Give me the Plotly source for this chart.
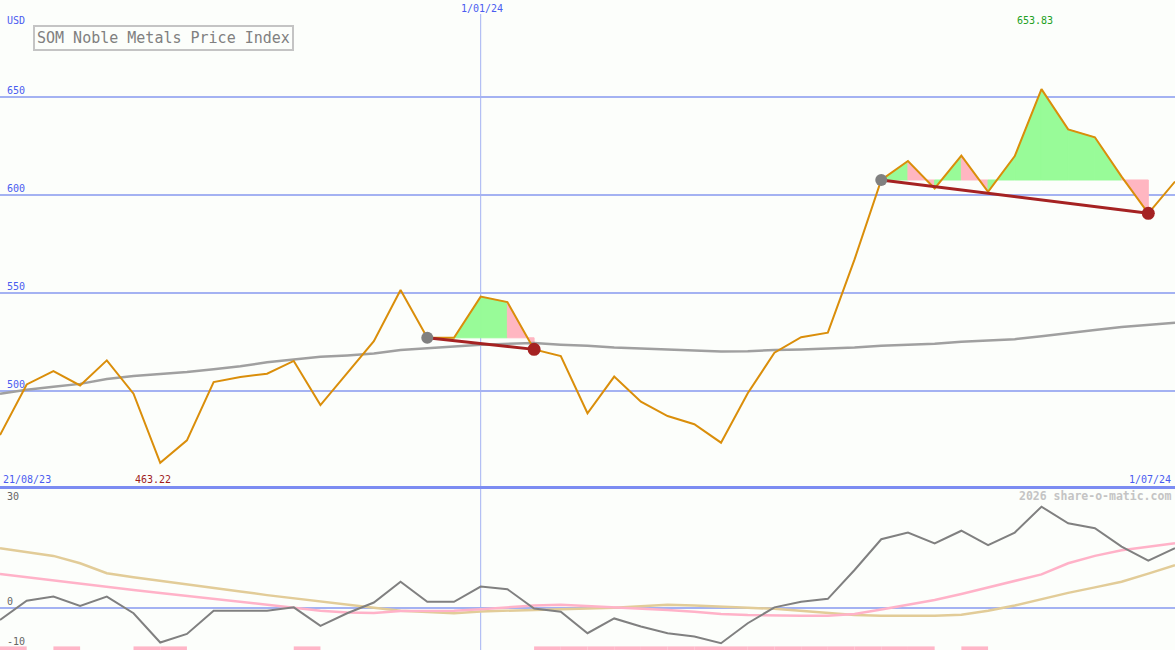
import pandas as pd
import plotly.graph_objects as go

# ---------------- data ----------------
dates = pd.date_range("2023-08-28", periods=45, freq="7D")

price = [477.4, 503.2, 510.0, 502.7, 515.5, 498.5, 463.22, 474.7, 504.4, 507.0,
         508.7, 515.2, 492.7, 509.2, 525.3, 551.4, 527.0, 527.0, 548.0, 545.2,
         521.1, 517.7, 488.5, 507.2, 494.4, 487.1, 482.9, 473.5, 498.7, 519.4,
         527.3, 529.6, 567.0, 607.5, 617.2, 603.2, 619.9, 601.5, 619.7, 653.83,
         633.3, 629.3, 609.2, 590.5, 606.7]

moving_avg = [498.5, 500.5, 502.0, 503.5, 506.0, 507.5, 508.5, 509.5, 511.0, 512.5,
              514.5, 516.0, 517.3, 518.0, 519.0, 520.8, 521.5, 522.5, 523.5, 524.0,
              524.3, 523.5, 523.0, 522.0, 521.5, 521.0, 520.3, 520.0, 520.2, 520.8,
              521.0, 521.5, 522.0, 523.0, 523.5, 524.0, 525.0, 525.5, 526.3, 527.8,
              529.5, 531.0, 532.5, 533.5, 534.7]

momentum = [-3.3, 1.9, 3.0, 0.5, 3.0, -1.5, -9.4, -7.1, -0.8, -0.8,
             -0.8, 0.1, -4.9, -1.5, 1.4, 7.0, 1.6, 1.6, 5.7, 5.0,
             -0.2, -1.1, -6.9, -2.9, -5.1, -6.9, -7.8, -9.6, -4.2, 0.1,
             1.6, 2.4, 10.2, 18.5, 20.3, 17.4, 20.8, 16.9, 20.3, 27.3,
             22.8, 21.5, 16.5, 12.7, 16.1]

mom_fast = [9.1, 8.2, 7.5, 6.6, 5.7, 4.8, 4.0, 3.2, 2.4, 1.6,
            0.7, 0.0, -0.8, -1.3, -1.4, -0.9, -0.8, -0.8, -0.4, 0.1,
            0.6, 0.8, 0.5, 0.2, -0.2, -0.6, -1.1, -1.7, -2.0, -2.2,
            -2.2, -2.2, -1.7, -0.5, 0.8, 2.1, 3.7, 5.5, 7.3, 9.0,
            12.0, 14.0, 15.5, 16.5, 17.4]

mom_slow = [16.1, 15.1, 14.0, 12.0, 9.3, 8.2, 7.3, 6.4, 5.4, 4.4,
            3.4, 2.5, 1.6, 0.8, 0.0, -0.8, -1.1, -1.5, -1.0, -0.8,
            -0.6, -0.4, -0.3, 0.0, 0.4, 0.8, 0.6, 0.2, 0.0, -0.3,
            -0.8, -1.4, -2.0, -2.2, -2.2, -2.2, -1.9, -0.8, 0.6, 2.4,
            4.0, 5.5, 7.0, 9.2, 11.5]

# intervals (start index) flagged by the pink bar at the bottom of the lower panel
flag_starts = [0, 2, 5, 6, 11] + list(range(20, 35)) + [36]

entries = [16, 33]
exits = [20, 43]

price_ticks = [500, 550, 600, 650]
osc_ticks = [30, 0, -10]

# ---------------- styling ----------------
W, H = 1175, 650
BG = "#FCFEFB"
GRID = "#A4B2F2"
BLUE_TXT = "#4A5CF0"
FONT = "DejaVu Sans Mono"
MAIN_DOM = [1 - 487 / H, 1.0]
LOW_DOM = [0.0, 1 - 489 / H]
MAIN_RANGE = [450.9, 699.3]
LOW_RANGE = [-11.43, 32.08]

fig = go.Figure()

# trade fills
for en, ex in zip(entries, exits):
    base = price[en]
    for i in range(en, ex):
        col = "#98FB98" if price[i + 1] >= base else "#FFB6C1"
        fig.add_trace(go.Scatter(
            x=[dates[i], dates[i], dates[i + 1], dates[i + 1], dates[i]],
            y=[base, price[i], price[i + 1], base, base],
            fill="toself", fillcolor=col, mode="lines",
            line=dict(width=1, color=col), hoverinfo="skip", showlegend=False,
            xaxis="x", yaxis="y"))

# moving average
fig.add_trace(go.Scatter(x=dates, y=moving_avg, mode="lines",
                         line=dict(color="#A0A0A0", width=2.5),
                         showlegend=False, xaxis="x", yaxis="y"))
# price
fig.add_trace(go.Scatter(x=dates, y=price, mode="lines",
                         line=dict(color="#DA8E0A", width=2),
                         showlegend=False, xaxis="x", yaxis="y"))
# trade lines and markers
for en, ex in zip(entries, exits):
    fig.add_trace(go.Scatter(x=[dates[en], dates[ex]], y=[price[en], price[ex]],
                             mode="lines", line=dict(color="#A52222", width=3),
                             showlegend=False, xaxis="x", yaxis="y"))
    fig.add_trace(go.Scatter(x=[dates[en]], y=[price[en]], mode="markers",
                             marker=dict(color="#808080", size=12),
                             showlegend=False, xaxis="x", yaxis="y"))
    fig.add_trace(go.Scatter(x=[dates[ex]], y=[price[ex]], mode="markers",
                             marker=dict(color="#A52222", size=13),
                             showlegend=False, xaxis="x", yaxis="y"))

# lower panel
fig.add_trace(go.Scatter(x=dates, y=mom_slow, mode="lines",
                         line=dict(color="#E2CC98", width=2.5),
                         showlegend=False, xaxis="x2", yaxis="y2"))
fig.add_trace(go.Scatter(x=dates, y=mom_fast, mode="lines",
                         line=dict(color="#FFB2C8", width=2.5),
                         showlegend=False, xaxis="x2", yaxis="y2"))
fig.add_trace(go.Scatter(x=dates, y=momentum, mode="lines",
                         line=dict(color="#808080", width=2),
                         showlegend=False, xaxis="x2", yaxis="y2"))

bx, by = [], []
for s in flag_starts:
    bx += [dates[s], dates[s + 1], None]
    by += [-11.0, -11.0, None]
fig.add_trace(go.Scatter(x=bx, y=by, mode="lines",
                         line=dict(color="#FFB6C8", width=4),
                         showlegend=False, xaxis="x2", yaxis="y2"))

# ---------------- layout ----------------
xr = [dates[0], dates[-1]]
fig.update_layout(
    width=W, height=H, margin=dict(l=0, r=0, t=0, b=0),
    paper_bgcolor=BG, plot_bgcolor=BG, showlegend=False,
    xaxis=dict(range=xr, domain=[0, 1], anchor="y", showgrid=False,
               zeroline=False, showticklabels=False, ticks=""),
    xaxis2=dict(range=xr, domain=[0, 1], anchor="y2", matches="x", showgrid=False,
                zeroline=False, showticklabels=False, ticks=""),
    yaxis=dict(range=MAIN_RANGE, domain=MAIN_DOM, tickvals=price_ticks,
               showticklabels=False, gridcolor=GRID, gridwidth=2,
               zeroline=False, ticks=""),
    yaxis2=dict(range=LOW_RANGE, domain=LOW_DOM, tickvals=[0],
                showticklabels=False, gridcolor=GRID, gridwidth=2,
                zeroline=False, ticks=""),
    font=dict(family=FONT),
)

shapes = [
    dict(type="line", xref="x", yref="paper", x0="2024-01-01", x1="2024-01-01",
         y0=0, y1=1 - 14 / H, line=dict(color=GRID, width=1), layer="below"),
    dict(type="line", xref="paper", yref="paper", x0=0, x1=1,
         y0=1 - 487.5 / H, y1=1 - 487.5 / H, line=dict(color="#7C8CF2", width=3)),
]
fig.update_layout(shapes=shapes)

ann = []
def px_ann(text, x, y, color, size=10, xanchor="left", yanchor="middle", **kw):
    ann.append(dict(text=text, xref="paper", yref="paper", x=x / W, y=1 - y / H,
                    xanchor=xanchor, yanchor=yanchor, showarrow=False,
                    font=dict(family=FONT, size=size, color=color), **kw))

for t in price_ticks:
    ann.append(dict(text=str(t), xref="paper", yref="y", x=5 / W, y=t,
                    xanchor="left", yanchor="bottom", showarrow=False, yshift=-1,
                    font=dict(family=FONT, size=10, color=BLUE_TXT)))
for t in osc_ticks:
    ann.append(dict(text=str(t), xref="paper", yref="y2", x=5 / W, y=t,
                    xanchor="left", yanchor="bottom" if t == 0 else "middle",
                    showarrow=False, yshift=-1 if t == 0 else (3 if t == -10 else 0),
                    font=dict(family=FONT, size=10, color="#666666")))

px_ann("USD", 5, 20, BLUE_TXT)
px_ann("1/01/24", 482, 9, BLUE_TXT, xanchor="center")
px_ann("653.83", 1035, 21, "#22A022", xanchor="center")
px_ann("21/08/23", 1, 479, BLUE_TXT)
px_ann("463.22", 153, 479, "#A01C1C", xanchor="center")
px_ann("1/07/24", 1173, 479, BLUE_TXT, xanchor="right")
px_ann("<b>2026 share-o-matic.com</b>", 1173, 496, "#C4C4C4", size=11.5, xanchor="right")
px_ann("SOM Noble Metals Price Index", 33, 25, "#808080", size=15, yanchor="top",
       bordercolor="#C4C4C4", borderwidth=2, borderpad=2, bgcolor=BG)

fig.update_layout(annotations=ann)

fig.write_html("out.html", config={"displayModeBar": False},
               post_script="document.body.style.margin='0';document.body.style.overflow='hidden';")
